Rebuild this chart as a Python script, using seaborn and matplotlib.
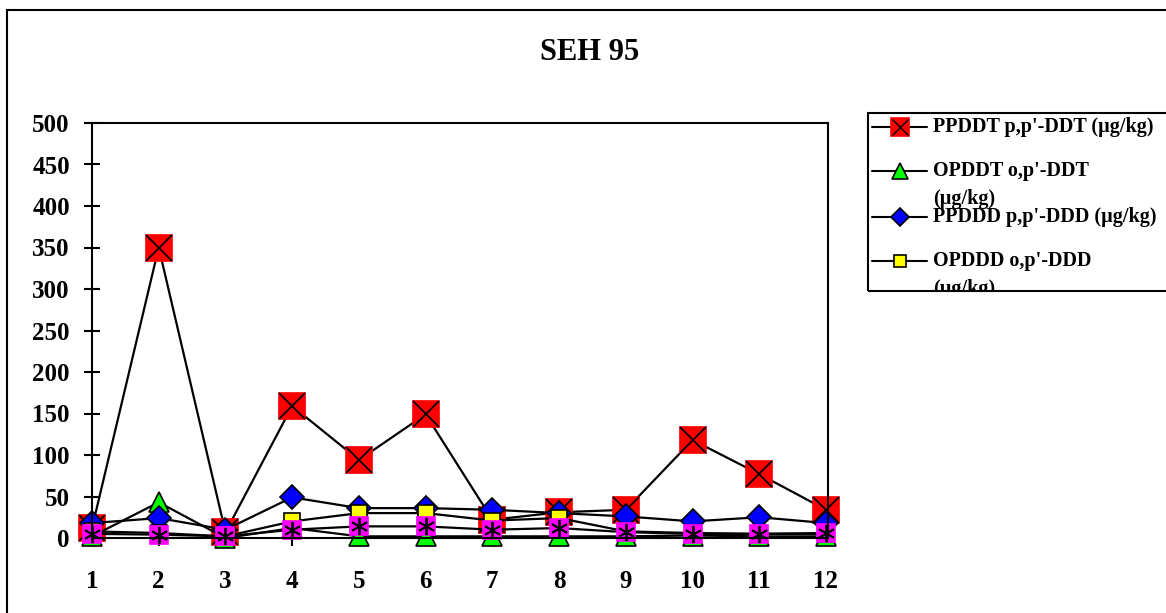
import numpy as np
import pandas as pd
import matplotlib
matplotlib.use("Agg")
import matplotlib.pyplot as plt
from matplotlib.lines import Line2D
from matplotlib.patches import Rectangle
from matplotlib.transforms import Bbox
import seaborn as sns

SAMPLES = [1, 2, 3, 4, 5, 6, 7, 8, 9, 10, 11, 12]
PPDDT = [12, 350, 7, 159, 94, 149, 22, 31, 34, 118, 77, 34]
OPDDT = [2, 43, 0, 12, 2, 2, 2, 2, 2, 3, 2, 2]
PPDDD = [18, 24, 10, 49, 36, 36, 34, 30, 26, 20, 25, 18]
OPDDD = [8, 6, 2, 20, 30, 30, 21, 24, 8, 6, 5, 5]
OPDDE = [5, 4, 2, 10, 14, 14, 10, 12, 7, 5, 5, 6]
LABELS = ["PPDDT p,p'-DDT (µg/kg)", "OPDDT o,p'-DDT (µg/kg)", "PPDDD p,p'-DDD (µg/kg)",
          "OPDDD o,p'-DDD (µg/kg)", "OPDDE o,p'-DDE (µg/kg)"]
Y_TICKS = [0, 50, 100, 150, 200, 250, 300, 350, 400, 450, 500]
TITLE = "SEH 95"

W, H = 1166, 613

sns.set_theme(style="white")
plt.rcParams["font.family"] = ["Liberation Serif", "DejaVu Serif"]
plt.rcParams["font.weight"] = "bold"
plt.rcParams["text.color"] = "black"

fig = plt.figure(figsize=(W / 100, H / 100), dpi=100)
ax = fig.add_axes([92 / W, 1 - 538 / H, (828 - 92) / W, (538 - 123) / H])

# (marker, face, edge, size, overlay marker)
styles = [
    ("s", "#ff0000", "#ff0000", 19, "x"),
    ("^", "#00ff00", "black", 15, None),
    ("D", "#0000ff", "black", 12, None),
    ("s", "#ffff00", "black", 11, None),
    ("s", "#ff00ff", "#ff00ff", 13, (6, 2, 0)),
]
series = [PPDDT, OPDDT, PPDDD, OPDDD, OPDDE]

for vals, lab, (mk, fc, ec, ms, over) in zip(series, LABELS, styles):
    df = pd.DataFrame({"sample": SAMPLES, "value": vals})
    sns.lineplot(data=df, x="sample", y="value", ax=ax, color="black", linewidth=1.6,
                 marker=mk, markerfacecolor=fc, markeredgecolor=ec, markeredgewidth=1.2,
                 markersize=ms, clip_on=False, label=lab, legend=False)
    if over is not None:
        ax.plot(df["sample"], df["value"], linestyle="none", marker=over, color="black",
                markersize=ms * 0.95, markeredgewidth=1.3, clip_on=False)

ax.set_xlim(1, 12.03)
ax.set_ylim(0, 500)
ax.set_xticks(SAMPLES)
ax.set_yticks(Y_TICKS)
ax.set_xlabel("")
ax.set_ylabel("")
for s in ax.spines.values():
    s.set_color("black")
    s.set_linewidth(1.5)
ax.tick_params(axis="both", direction="inout", length=12, width=1.5, colors="black",
               labelsize=18)
ax.tick_params(axis="x", pad=17, bottom=True)
ax.tick_params(axis="y", pad=10, left=True)
for t in ax.get_xticklabels() + ax.get_yticklabels():
    t.set_fontweight("bold")

fig.text(590 / W, 1 - 53 / H, TITLE, ha="center", va="center", fontsize=22,
         fontweight="bold", color="black")

# outer chart border (partly beyond the image)
fig.add_artist(Rectangle((7 / W, 1 - 640 / H), (1200 - 7) / W, (640 - 10) / H,
                         transform=fig.transFigure, fill=False, edgecolor="black",
                         linewidth=1.5))

# legend box, clipped at the bottom like the original
fig.add_artist(Rectangle((868 / W, 1 - 291 / H), (1200 - 868) / W, (291 - 113) / H,
                         transform=fig.transFigure, fill=False, edgecolor="black",
                         linewidth=1.5))
clip = Bbox.from_extents(868, H - 291, W, H - 113)
leg_y = [127, 171, 217, 261]
leg_text = ["PPDDT p,p'-DDT (µg/kg)", "OPDDT o,p'-DDT", "PPDDD p,p'-DDD (µg/kg)", "OPDDD o,p'-DDD"]
extra = {1: "(µg/kg)", 3: "(µg/kg)"}
for i, (y, txt) in enumerate(zip(leg_y, leg_text)):
    mk, fc, ec, ms, over = styles[i]
    yy = 1 - y / H
    fig.add_artist(Line2D([872 / W, 927 / W], [yy, yy], transform=fig.transFigure,
                          color="black", linewidth=1.5))
    lms = ms * 0.7 if i == 0 else ms * 0.8
    fig.add_artist(Line2D([900 / W], [yy], transform=fig.transFigure, marker=mk,
                          markerfacecolor=fc, markeredgecolor=ec, markersize=lms,
                          markeredgewidth=1.2, linestyle="none"))
    if over is not None:
        fig.add_artist(Line2D([900 / W], [yy], transform=fig.transFigure, marker=over,
                              color="black", markersize=lms * 0.85, linestyle="none"))
    fig.text(933 / W, yy, txt, ha="left", va="center", fontsize=14.5, fontweight="bold")
    if i in extra:
        t = fig.text(933 / W, 1 - (y + 28) / H, extra[i], ha="left", va="center",
                     fontsize=14.5, fontweight="bold")
        t.set_clip_box(clip)
        t.set_clip_on(True)

fig.savefig("out.png", dpi=100)
